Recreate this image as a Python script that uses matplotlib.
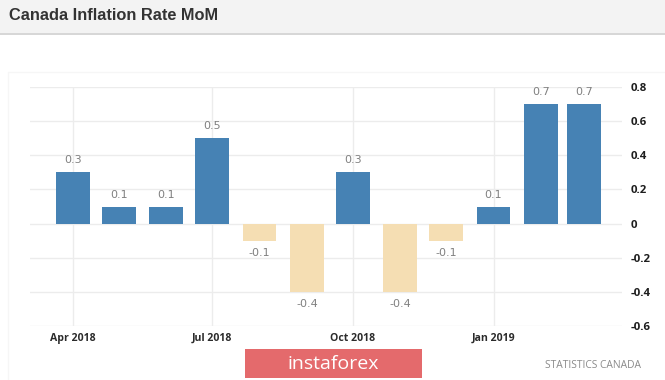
import datetime

import matplotlib
matplotlib.use("Agg")
import matplotlib.dates as mdates
import matplotlib.pyplot as plt
from matplotlib.patches import Rectangle

# Canada CPI, month over month change (%)
months = [datetime.date(2018, m, 1) for m in range(4, 13)] + \
         [datetime.date(2019, m, 1) for m in range(1, 4)]
values = [0.3, 0.1, 0.1, 0.5, -0.1, -0.4, 0.3, -0.4, -0.1, 0.1, 0.7, 0.7]
tick_dates = [datetime.date(2018, 4, 1), datetime.date(2018, 7, 1),
              datetime.date(2018, 10, 1), datetime.date(2019, 1, 1)]
y_ticks = [0.8, 0.6, 0.4, 0.2, 0, -0.2, -0.4, -0.6]
y_labels = ['0.8', '0.6', '0.4', '0.2', '0', '-0.2', '-0.4', '-0.6']

POS = '#4682b4'
NEG = '#f5deb3'

W, H = 665, 380
fig = plt.figure(figsize=(W / 100, H / 100), dpi=100)
fig.patch.set_facecolor('white')

# title band
fig.patches.append(Rectangle((0, 1 - 33 / H), 1, 33 / H, transform=fig.transFigure,
                             facecolor='#f3f3f3', edgecolor='none', zorder=0))
fig.lines.append(plt.Line2D([0, 1], [1 - 33.5 / H] * 2, transform=fig.transFigure,
                            color='#cfcfcf', lw=1.2))
fig.text(9 / W, 1 - 16 / H, 'Canada Inflation Rate MoM', family='Liberation Sans',
         weight='bold', fontsize=11.8, color='#333333', va='center', ha='left')

# faint panel border
fig.patches.append(Rectangle((8 / W, -0.01), 1.2, 1 - 72 / H + 0.01, transform=fig.transFigure,
                             facecolor='none', edgecolor='#f6f6f6', lw=1, zorder=0))

ax = fig.add_axes([30 / W, 1 - 326 / H, (622 - 30) / W, (326 - 87) / H])
ax.set_facecolor('none')

colors = [POS if v >= 0 else NEG for v in values]
ax.bar(months, values, width=22, color=colors, zorder=3)

for d, v in zip(months, values):
    off = 12 if v >= 0 else -12
    ax.annotate(f'{v:g}', (mdates.date2num(d), v), xytext=(0, off * 0.72),
                textcoords='offset points', ha='center', va='center',
                fontsize=8, color='#808080', family='DejaVu Sans')

ax.set_xlim(mdates.date2num(datetime.date(2018, 3, 4)),
            mdates.date2num(datetime.date(2019, 3, 26)))
ax.set_ylim(-0.6, 0.8)

ax.set_xticks([mdates.date2num(d) for d in tick_dates])
ax.set_xticklabels([d.strftime('%b %Y') for d in tick_dates], family='Open Sans',
                   fontsize=7.6, color='#2b2b2b', weight='bold')
ax.yaxis.tick_right()
ax.set_yticks(y_ticks)
ax.set_yticklabels(y_labels, family='Open Sans', fontsize=8.2, color='#1e1e1e',
                   weight='bold', ha='left')
ax.tick_params(axis='both', length=0)
ax.tick_params(axis='y', pad=6)
ax.tick_params(axis='x', pad=5)

ax.grid(True, color='#ececec', lw=1, zorder=0)
for s in ax.spines.values():
    s.set_visible(False)

# source and watermark
fig.text(641 / W, 1 - 365 / H, 'STATISTICS CANADA', ha='right', va='center',
         fontsize=7.4, color='#8a8a8a', family='Open Sans')
fig.patches.append(Rectangle((245 / W, 1 - 378 / H), (422 - 245) / W, (378 - 349) / H,
                             transform=fig.transFigure, facecolor='#e46a6c',
                             edgecolor='none', zorder=5))
fig.text(333 / W, 1 - 364 / H, 'instaforex', ha='center', va='center', fontsize=14,
         color='white', family='Open Sans', zorder=6)

fig.savefig('out.png', dpi=100)
